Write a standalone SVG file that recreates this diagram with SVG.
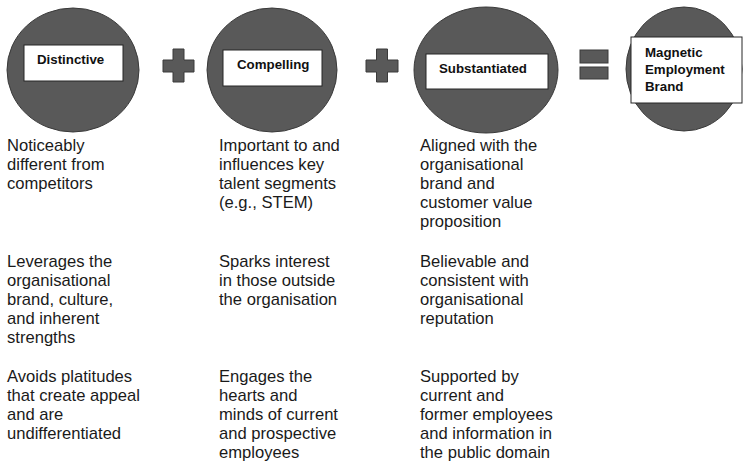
<svg xmlns="http://www.w3.org/2000/svg" width="743" height="461" viewBox="0 0 743 461">
  <style>
    .disc { fill: #595959; stroke: #3a3a3a; stroke-width: 1; }
    .op { fill: #595959; stroke: #3a3a3a; stroke-width: 1; }
    .tag { fill: #ffffff; stroke: #262626; stroke-width: 1; }
    .tagtxt { font-family: "Liberation Sans", Arial, sans-serif; font-weight: bold; font-size: 13.3px; fill: #111; }
    .body { font-family: "Liberation Sans", Arial, sans-serif; font-size: 16.6px; fill: #1a1a1a; }
  </style>
  <rect width="743" height="461" fill="#ffffff"/>

  <!-- first term -->
  <g id="distinctive">
    <ellipse class="disc" cx="73" cy="70" rx="66" ry="62"/>
    <rect class="tag" x="24" y="45" width="99" height="36"/>
    <text class="tagtxt" x="37" y="64">Distinctive</text>
  </g>

  <!-- operators between the terms -->
  <g id="operators">
    <path class="op" d="M173,49 H184 V60 H194 V72 H184 V82 H173 V72 H163 V60 H173 Z"/>
    <path class="op" d="M376.5,49 H387.5 V60 H398 V72 H387.5 V82 H376.5 V72 H366 V60 H376.5 Z"/>
    <rect class="op" x="580" y="50" width="28" height="13"/>
    <rect class="op" x="580" y="67" width="28" height="12"/>
  </g>

  <g id="compelling">
    <ellipse class="disc" cx="272" cy="70" rx="65" ry="62"/>
    <rect class="tag" x="223" y="50" width="99" height="36"/>
    <text class="tagtxt" x="237" y="68.5">Compelling</text>
  </g>

  <g id="substantiated">
    <ellipse class="disc" cx="486" cy="70" rx="72" ry="63"/>
    <rect class="tag" x="426" y="54" width="122" height="35"/>
    <text class="tagtxt" x="439" y="73">Substantiated</text>
  </g>

  <g id="magnetic-brand">
    <ellipse class="disc" cx="684" cy="69" rx="58" ry="62"/>
    <rect class="tag" x="631" y="37" width="111" height="66"/>
    <text class="tagtxt" x="645" y="57">Magnetic</text>
    <text class="tagtxt" x="645" y="74">Employment</text>
    <text class="tagtxt" x="645" y="91">Brand</text>
  </g>

  <!-- descriptions under each term -->
  <g id="col-distinctive" class="body">
    <text x="7" y="151">Noticeably</text>
    <text x="7" y="170">different from</text>
    <text x="7" y="189">competitors</text>
    <text x="7" y="267">Leverages the</text>
    <text x="7" y="286">organisational</text>
    <text x="7" y="305">brand, culture,</text>
    <text x="7" y="324">and inherent</text>
    <text x="7" y="343">strengths</text>
    <text x="7" y="382">Avoids platitudes</text>
    <text x="7" y="401">that create appeal</text>
    <text x="7" y="420">and are</text>
    <text x="7" y="439">undifferentiated</text>
  </g>

  <g id="col-compelling" class="body">
    <text x="219" y="151">Important to and</text>
    <text x="219" y="170">influences key</text>
    <text x="219" y="189">talent segments</text>
    <text x="219" y="208">(e.g., STEM)</text>
    <text x="219" y="267">Sparks interest</text>
    <text x="219" y="286">in those outside</text>
    <text x="219" y="305">the organisation</text>
    <text x="219" y="382">Engages the</text>
    <text x="219" y="401">hearts and</text>
    <text x="219" y="420">minds of current</text>
    <text x="219" y="439">and prospective</text>
    <text x="219" y="458">employees</text>
  </g>

  <g id="col-substantiated" class="body">
    <text x="420" y="151">Aligned with the</text>
    <text x="420" y="170">organisational</text>
    <text x="420" y="189">brand and</text>
    <text x="420" y="208">customer value</text>
    <text x="420" y="227">proposition</text>
    <text x="420" y="267">Believable and</text>
    <text x="420" y="286">consistent with</text>
    <text x="420" y="305">organisational</text>
    <text x="420" y="324">reputation</text>
    <text x="420" y="382">Supported by</text>
    <text x="420" y="401">current and</text>
    <text x="420" y="420">former employees</text>
    <text x="420" y="439">and information in</text>
    <text x="420" y="458">the public domain</text>
  </g>
</svg>
